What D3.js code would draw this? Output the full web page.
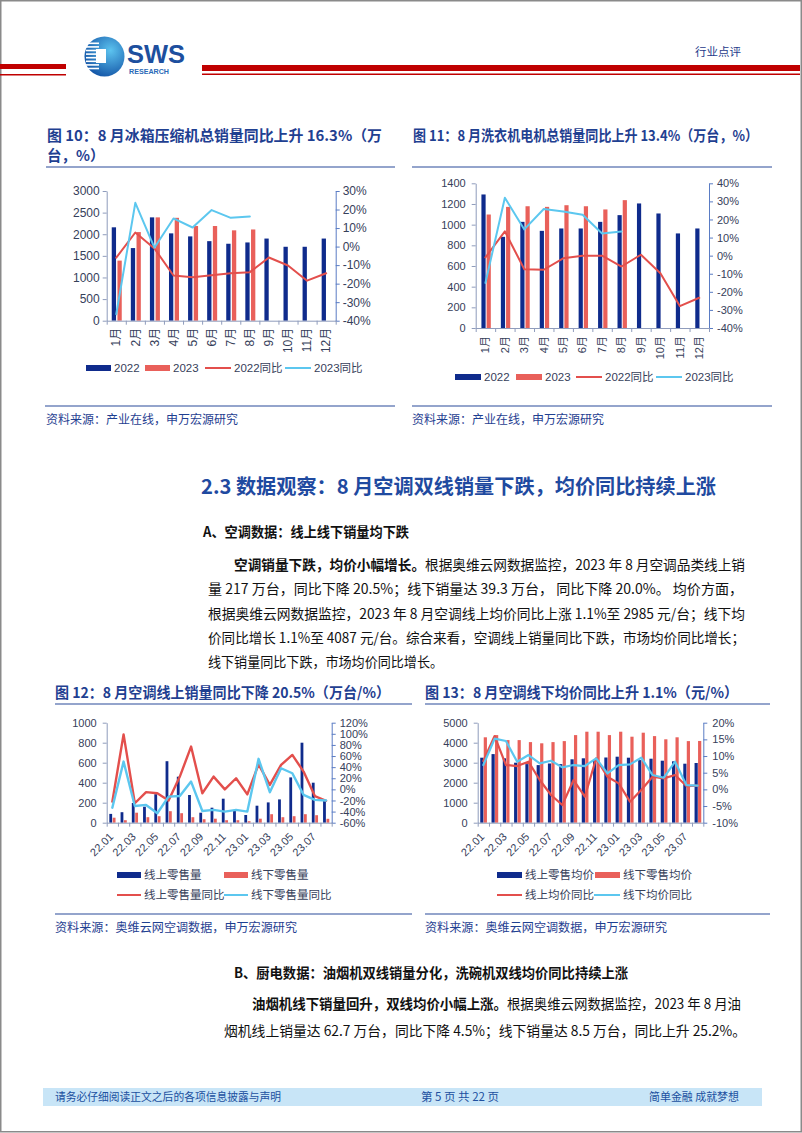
<!DOCTYPE html>
<html>
<head>
<meta charset="utf-8">
<script src="https://cdn.jsdelivr.net/npm/d3@7"></script>
<style>
body { margin: 0; background: #fff; }
svg { display: block; }
</style>
</head>
<body>
<svg id="page" width="802" height="1133"></svg>
<script>
// ---- data ----
var months = ['1月', '2月', '3月', '4月', '5月', '6月', '7月', '8月', '9月', '10月', '11月', '12月'];

// fig 10: fridge compressors
var fridge2022 = [2160, 1680, 2390, 2020, 1950, 1840, 1780, 1810, 1900, 1710, 1710, 1900];
var fridge2023 = [1390, 2050, 2390, 2380, 2190, 2190, 2090, 2110];
var fridgeYoy2022 = [-6, 7.6, -1, -15.6, -16.5, -15.5, -14.4, -13.8, -5.9, -10.2, -18.4, -14.4];
var fridgeYoy2023 = [-36.5, 23.6, -0.6, 15.2, 10.3, 19.7, 15.5, 16.3];
var fridgeLeftTicks = [0, 500, 1000, 1500, 2000, 2500, 3000];
var fridgeRightTicks = [-40, -30, -20, -10, 0, 10, 20, 30];

// fig 11: washer motors
var washer2022 = [1292, 882, 1027, 940, 963, 963, 1027, 1092, 1205, 1108, 915, 963];
var washer2023 = [1098, 1172, 1178, 1172, 1188, 1178, 1147, 1237];
var washerYoy2022 = [-1, 13.4, -7.5, -7.8, -1.5, 0, 0, -6, 0.5, -9.7, -27.9, -23.3];
var washerYoy2023 = [-15.1, 32, 14.5, 25.8, 24.4, 22.6, 12.2, 13.4];
var washerLeftTicks = [0, 200, 400, 600, 800, 1000, 1200, 1400];
var washerRightTicks = [-40, -30, -20, -10, 0, 10, 20, 30, 40];

// fig 12 / 13: air conditioners
var acMonths = ['22.01', '22.02', '22.03', '22.04', '22.05', '22.06', '22.07', '22.08', '22.09', '22.10',
                '22.11', '22.12', '23.01', '23.02', '23.03', '23.04', '23.05', '23.06', '23.07', '23.08'];
var acOnline = [88, 105, 197, 160, 285, 615, 460, 277, 100, 150, 240, 120, 77, 170, 203, 233, 453, 800, 400, 217];
var acOffline = [50, 25, 100, 55, 65, 115, 95, 55, 35, 40, 25, 25, 15, 40, 85, 55, 65, 85, 75, 39];
var acOnlineYoy = [-22, 99, -25, -5, -7, -20, 23, 77, -7, 23, 0, 20, -9, 45, 8, 44, 62, 32, -12, -20.5];
var acOfflineYoy = [-33, 50, -30, -28, -43, -13, -12, 14, -39, -37, -40, -37, -40, 55, -5, 38, 29, -10, -19, -20];
var acVolLeftTicks = [0, 200, 400, 600, 800, 1000];
var acVolRightTicks = [-60, -40, -20, 0, 20, 40, 60, 80, 100, 120];

var acOnlinePrice = [3250, 3430, 3220, 3000, 2930, 2880, 2960, 2930, 3170, 3220, 3130, 3260, 3300, 3250, 3130, 3200, 3100, 3070, 2950, 2985];
var acOfflinePrice = [4270, 4380, 4130, 4130, 4030, 3970, 4030, 4080, 4380, 4550, 4550, 4380, 4550, 4300, 4500, 4330, 4170, 4270, 4080, 4087];
var acOnlinePriceYoy = [8.5, 16, 7.3, 7, 8.3, 2.8, -1.7, -4.7, 2.8, -2.2, 9.3, 3.8, 1.8, -3.7, -0.2, 3.8, 3.3, 4.3, 1, 1.1];
var acOfflinePriceYoy = [7.3, 15.2, 14.5, 8.3, 10.3, 7.8, 8.6, 6.6, 7.3, 7, 9.3, 4.8, 7.3, 7.5, 9.5, 4.3, 3.5, 8.3, 1.3, 1.1];
var acPriceLeftTicks = [0, 1000, 2000, 3000, 4000, 5000];
var acPriceRightTicks = [-10, -5, 0, 5, 10, 15, 20];

// ---- styles ----
var NAVY = '#0f2b8c', CORAL = '#e9605a', RED = '#e34f4c', CYAN = '#5cc7ef';
var TITLE = '#1f4091', INK = '#36405a';
var LAT = '"Liberation Sans", "Noto Sans CJK SC", sans-serif';
var CJK = '"Noto Sans CJK SC", "Liberation Sans", sans-serif';

var svg = d3.select('#page');

// page frame
svg.append('rect').attr('x', 0.75).attr('y', 0.75).attr('width', 800.5).attr('height', 1131)
  .attr('fill', 'none').attr('stroke', '#8a8a8a').attr('stroke-width', 1.5);

// ---- header ----
var hdr = svg.append('g');
hdr.append('rect').attr('x', 0).attr('y', 64).attr('width', 66).attr('height', 5).attr('fill', '#c00000');
hdr.append('rect').attr('x', 0).attr('y', 74).attr('width', 66).attr('height', 1.5).attr('fill', '#c00000');
hdr.append('rect').attr('x', 202).attr('y', 65).attr('width', 598).attr('height', 6).attr('fill', '#c00000');
hdr.append('rect').attr('x', 202).attr('y', 73.5).attr('width', 598).attr('height', 1.5).attr('fill', '#c00000');

var grad = svg.append('defs').append('radialGradient').attr('id', 'logoGrad')
  .attr('cx', '65%').attr('cy', '35%').attr('r', '70%');
grad.append('stop').attr('offset', '0%').attr('stop-color', '#5cc3ef');
grad.append('stop').attr('offset', '100%').attr('stop-color', '#1557a8');
hdr.append('circle').attr('cx', 104.5).attr('cy', 56.5).attr('r', 20).attr('fill', 'url(#logoGrad)');
d3.range(8).forEach(function(k) {
  hdr.append('rect').attr('x', 86).attr('y', 42.5 + k * 3.6).attr('width', 13).attr('height', 1.6).attr('fill', '#fff');
});
hdr.append('rect').attr('x', 96).attr('y', 49).attr('width', 10).attr('height', 14).attr('fill', '#fff');
hdr.append('text').attr('x', 127).attr('y', 63).text('SWS')
  .attr('font-family', LAT).attr('font-weight', 'bold').attr('font-size', 25)
  .attr('textLength', 58).attr('lengthAdjust', 'spacingAndGlyphs').attr('fill', '#1d4f9e');
hdr.append('text').attr('x', 129).attr('y', 73.5).text('RESEARCH')
  .attr('font-family', LAT).attr('font-weight', 'bold').attr('font-size', 7)
  .attr('textLength', 40).attr('lengthAdjust', 'spacingAndGlyphs').attr('fill', '#2a6ab8');
hdr.append('text').attr('x', 695).attr('y', 52).attr('dy', '0.35em').text('行业点评')
  .attr('font-family', CJK).attr('font-size', 11.5).attr('fill', '#1e3a8a');

// ---- text helpers ----
function textLine(x, y, parts, size, len, color) {
  var t = svg.append('text').attr('x', x).attr('y', y).attr('dy', '0.35em')
    .attr('font-family', CJK).attr('font-size', size).attr('fill', color || '#111');
  if (len) t.attr('textLength', len).attr('lengthAdjust', 'spacingAndGlyphs');
  parts.forEach(function(p) {
    t.append('tspan').attr('font-weight', p.b ? 'bold' : 'normal').text(p.t);
  });
  return t;
}
function rule(x1, x2, y) {
  svg.append('line').attr('x1', x1).attr('x2', x2).attr('y1', y).attr('y2', y)
    .attr('stroke', '#2b4a9a').attr('stroke-width', 1.2);
}

// ---- combo chart: bars on left scale, lines on right scale ----
function comboChart(o) {
  var g = svg.append('g');
  var n = o.cats.length;
  var x = d3.scaleBand().domain(o.cats).range([o.x0, o.x1]);
  var bw = x.bandwidth();
  function cx(i) { return x(o.cats[i]) + bw / 2; }
  var yL = d3.scaleLinear().domain(o.leftDomain).range([o.y1, o.y0]);
  var yR = d3.scaleLinear().domain(o.rightDomain).range([o.y1, o.y0]);

  o.bars.forEach(function(b) {
    g.append('g').selectAll('rect').data(b.values).enter().append('rect')
      .attr('x', function(d, i) { return cx(i) + b.dx; })
      .attr('y', function(d) { return yL(d); })
      .attr('width', b.w)
      .attr('height', function(d) { return yL(0) - yL(d); })
      .attr('fill', b.color);
  });

  o.lines.forEach(function(l) {
    g.append('path').datum(l.values)
      .attr('d', d3.line().x(function(d, i) { return cx(i); }).y(function(d) { return yR(d); }))
      .attr('fill', 'none').attr('stroke', l.color).attr('stroke-width', o.lineWidth)
      .attr('stroke-linejoin', 'round').attr('stroke-linecap', 'round');
  });

  var gl = g.append('g').attr('transform', 'translate(' + o.x0 + ',0)')
    .call(d3.axisLeft(yL).tickValues(o.leftTicks).tickSize(4).tickSizeOuter(0).tickPadding(o.padL)
      .tickFormat(d3.format('d')));
  var gr = g.append('g').attr('transform', 'translate(' + o.x1 + ',0)')
    .call(d3.axisRight(yR).tickValues(o.rightTicks).tickSize(4).tickSizeOuter(0).tickPadding(o.padR)
      .tickFormat(function(d) { return d + '%'; }));
  var xb = d3.scaleLinear().domain([0, n]).range([o.x0, o.x1]);
  var gx = g.append('g').attr('transform', 'translate(0,' + o.y1 + ')')
    .call(d3.axisBottom(xb).tickValues(d3.range(n + 1)).tickSize(4).tickSizeOuter(0).tickFormat(''));

  [gl, gr, gx].forEach(function(a) {
    a.attr('font-family', LAT).attr('font-size', o.tickFont);
    a.selectAll('text').attr('fill', INK);
  });
  gl.selectAll('path, line').attr('stroke', '#8f9cbc');
  gr.selectAll('path, line').attr('stroke', '#5a7cc4');
  gx.selectAll('path, line').attr('stroke', '#8f9cbc');

  // category labels
  o.cats.forEach(function(c, i) {
    if (o.labelEvery && i % o.labelEvery) return;
    var t = g.append('text').text(c)
      .attr('font-family', LAT).attr('font-size', o.tickFont).attr('fill', INK)
      .attr('text-anchor', 'end').attr('dy', '0.35em');
    if (o.labelRotate === -90) {
      t.attr('transform', 'translate(' + cx(i) + ',' + (o.y1 + o.labelGap) + ') rotate(-90)');
    } else {
      t.attr('transform', 'translate(' + (cx(i) - 1) + ',' + (o.y1 + o.labelGap) + ') rotate(-45)');
    }
  });

  // legend
  o.legend.forEach(function(it) {
    if (it.type === 'bar') {
      g.append('rect').attr('x', it.x).attr('y', it.y - 3).attr('width', it.w).attr('height', 6).attr('fill', it.color);
    } else {
      g.append('line').attr('x1', it.x).attr('x2', it.x + it.w).attr('y1', it.y).attr('y2', it.y)
        .attr('stroke', it.color).attr('stroke-width', 2);
    }
    g.append('text').attr('x', it.x + it.w + 3).attr('y', it.y).attr('dy', '0.35em').text(it.label)
      .attr('font-family', LAT).attr('font-size', o.legendFont).attr('fill', INK);
  });
}

// ---- figure 10 ----
textLine(47, 136, [{ t: '图 10：8 月冰箱压缩机总销量同比上升 16.3%（万', b: 1 }], 14.5, 335, TITLE);
textLine(47, 156, [{ t: '台，%）', b: 1 }], 14.5, null, TITLE);
rule(46, 395, 167);
comboChart({
  cats: months, x0: 106.7, x1: 335.7, y0: 191, y1: 320.7,
  leftDomain: [0, 3000], rightDomain: [-40, 30],
  leftTicks: fridgeLeftTicks, rightTicks: fridgeRightTicks,
  padL: 3, padR: 3, tickFont: 12, legendFont: 11.5, lineWidth: 2,
  labelRotate: -90, labelGap: 7,
  bars: [{ values: fridge2022, color: NAVY, dx: -4.5, w: 4.3 },
         { values: fridge2023, color: CORAL, dx: 1.2, w: 4.3 }],
  lines: [{ values: fridgeYoy2022, color: RED }, { values: fridgeYoy2023, color: CYAN }],
  legend: [{ type: 'bar', color: NAVY, x: 86, y: 368, w: 25, label: '2022' },
           { type: 'bar', color: CORAL, x: 145, y: 368, w: 25, label: '2023' },
           { type: 'line', color: RED, x: 205, y: 368, w: 26, label: '2022同比' },
           { type: 'line', color: CYAN, x: 285, y: 368, w: 26, label: '2023同比' }]
});
rule(45, 395, 406);
textLine(46, 420, [{ t: '资料来源：产业在线，申万宏源研究' }], 12, 192, TITLE);

// ---- figure 11 ----
textLine(413, 136, [{ t: '图 11：8 月洗衣机电机总销量同比上升 13.4%（万台，%）', b: 1 }], 14.5, 345, TITLE);
rule(412, 772, 167);
comboChart({
  cats: months, x0: 475.7, x1: 709, y0: 183.3, y1: 328,
  leftDomain: [0, 1400], rightDomain: [-40, 40],
  leftTicks: washerLeftTicks, rightTicks: washerRightTicks,
  padL: 6, padR: 4, tickFont: 11, legendFont: 11.5, lineWidth: 2,
  labelRotate: -90, labelGap: 8,
  bars: [{ values: washer2022, color: NAVY, dx: -4, w: 4.2 },
         { values: washer2023, color: CORAL, dx: 1.2, w: 4.2 }],
  lines: [{ values: washerYoy2022, color: RED }, { values: washerYoy2023, color: CYAN }],
  legend: [{ type: 'bar', color: NAVY, x: 455, y: 377, w: 26, label: '2022' },
           { type: 'bar', color: CORAL, x: 516, y: 377, w: 26, label: '2023' },
           { type: 'line', color: RED, x: 576, y: 377, w: 26, label: '2022同比' },
           { type: 'line', color: CYAN, x: 656, y: 377, w: 26, label: '2023同比' }]
});
rule(412, 772, 406);
textLine(412, 420, [{ t: '资料来源：产业在线，申万宏源研究' }], 12, 192, TITLE);

// ---- section 2.3 text ----
textLine(201, 487, [{ t: '2.3 数据观察：8 月空调双线销量下跌，均价同比持续上涨', b: 1 }], 20, 515, '#1f4aa0');
textLine(203, 532, [{ t: 'A、空调数据：线上线下销量均下跌', b: 1 }], 14, 206);
textLine(234, 565, [{ t: '空调销量下跌，均价小幅增长。', b: 1 },
                    { t: '根据奥维云网数据监控，2023 年 8 月空调品类线上销' }], 14, 511);
textLine(208, 589, [{ t: '量 217 万台，同比下降 20.5%；线下销量达 39.3 万台， 同比下降 20.0%。 均价方面，' }], 14, 535);
textLine(208, 614, [{ t: '根据奥维云网数据监控，2023 年 8 月空调线上均价同比上涨 1.1%至 2985 元/台；线下均' }], 14, 537);
textLine(208, 638, [{ t: '价同比增长 1.1%至 4087 元/台。综合来看，空调线上销量同比下跌，市场均价同比增长；' }], 14, 537);
textLine(208, 662, [{ t: '线下销量同比下跌，市场均价同比增长。' }], 14, 235);

// ---- figure 12 ----
textLine(55, 693, [{ t: '图 12：8 月空调线上销量同比下降 20.5%（万台/%）', b: 1 }], 14.5, 335, TITLE);
rule(55, 412, 704);
comboChart({
  cats: acMonths, x0: 106.7, x1: 331.7, y0: 722.7, y1: 822.7,
  leftDomain: [0, 1000], rightDomain: [-60, 120],
  leftTicks: acVolLeftTicks, rightTicks: acVolRightTicks,
  padL: 6, padR: 4, tickFont: 11, legendFont: 11.5, lineWidth: 2.4,
  labelRotate: -45, labelGap: 12, labelEvery: 2,
  bars: [{ values: acOnline, color: NAVY, dx: -3, w: 2.8 },
         { values: acOffline, color: CORAL, dx: 0.4, w: 2.8 }],
  lines: [{ values: acOnlineYoy, color: RED }, { values: acOfflineYoy, color: CYAN }],
  legend: [{ type: 'bar', color: NAVY, x: 117, y: 875, w: 24, label: '线上零售量' },
           { type: 'bar', color: CORAL, x: 224, y: 875, w: 24, label: '线下零售量' },
           { type: 'line', color: RED, x: 117, y: 895, w: 24, label: '线上零售量同比' },
           { type: 'line', color: CYAN, x: 224, y: 895, w: 24, label: '线下零售量同比' }]
});
rule(55, 412, 914);
textLine(55, 928, [{ t: '资料来源：奥维云网空调数据，申万宏源研究' }], 12, 242, TITLE);

// ---- figure 13 ----
textLine(425, 693, [{ t: '图 13：8 月空调线下均价同比上升 1.1%（元/%）', b: 1 }], 14.5, 313, TITLE);
rule(425, 770, 704);
comboChart({
  cats: acMonths, x0: 477.7, x1: 703.3, y0: 722.7, y1: 822.7,
  leftDomain: [0, 5000], rightDomain: [-10, 20],
  leftTicks: acPriceLeftTicks, rightTicks: acPriceRightTicks,
  padL: 6, padR: 5, tickFont: 11, legendFont: 11.5, lineWidth: 2.2,
  labelRotate: -45, labelGap: 12, labelEvery: 2,
  bars: [{ values: acOnlinePrice, color: NAVY, dx: -3.1, w: 3.2 },
         { values: acOfflinePrice, color: CORAL, dx: 0.4, w: 3.2 }],
  lines: [{ values: acOnlinePriceYoy, color: RED }, { values: acOfflinePriceYoy, color: CYAN }],
  legend: [{ type: 'bar', color: NAVY, x: 497, y: 875, w: 25, label: '线上零售均价' },
           { type: 'bar', color: CORAL, x: 595, y: 875, w: 25, label: '线下零售均价' },
           { type: 'line', color: RED, x: 497, y: 895, w: 25, label: '线上均价同比' },
           { type: 'line', color: CYAN, x: 594, y: 895, w: 26, label: '线下均价同比' }]
});
rule(425, 770, 914);
textLine(425, 928, [{ t: '资料来源：奥维云网空调数据，申万宏源研究' }], 12, 242, TITLE);

// ---- section B text ----
textLine(234, 973, [{ t: 'B、厨电数据：油烟机双线销量分化，洗碗机双线均价同比持续上涨', b: 1 }], 14, 394);
textLine(252, 1004, [{ t: '油烟机线下销量回升，双线均价小幅上涨。', b: 1 },
                     { t: '根据奥维云网数据监控，2023 年 8 月油' }], 14, 489);
textLine(224, 1031, [{ t: '烟机线上销量达 62.7 万台，同比下降 4.5%；线下销量达 8.5 万台，同比上升 25.2%。' }], 14, 522);

// ---- footer ----
svg.append('rect').attr('x', 43).attr('y', 1088).attr('width', 719).attr('height', 18).attr('fill', '#c8e5f7');
textLine(55, 1097, [{ t: '请务必仔细阅读正文之后的各项信息披露与声明' }], 11.5, 226, '#2050a0');
textLine(421, 1097, [{ t: '第 5 页 共 22 页' }], 11.5, 78, '#2050a0');
textLine(649, 1097, [{ t: '简单金融 成就梦想' }], 11.5, 90, '#2050a0');
</script>
</body>
</html>
